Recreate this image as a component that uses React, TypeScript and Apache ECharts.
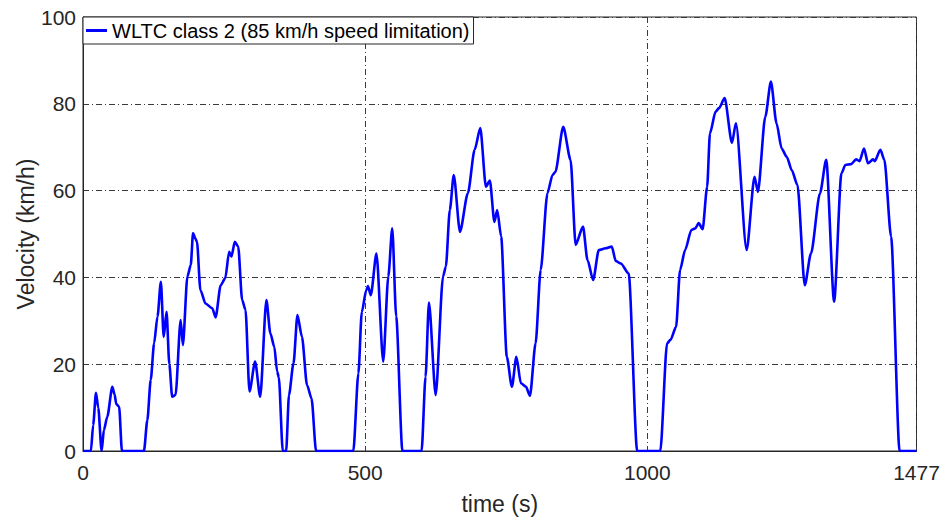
import React, { useEffect, useRef } from "react";
import * as echarts from "echarts";

const seriesName = "WLTC class 2 (85 km/h speed limitation)";
const xTitle = "time (s)";
const yTitle = "Velocity (km/h)";

const timeS: number[] = [
  0, 14, 18, 23, 27, 33, 37, 43, 52, 56, 59, 64, 69, 108, 114, 120, 126, 132, 138, 143, 148, 153, 158, 164, 173, 177,
  185, 191, 195, 199, 202, 208, 217, 229, 235, 244, 252, 259, 263, 269, 275, 282, 288, 295, 305, 314, 325, 332, 339,
  344, 347, 354, 360, 365, 373, 380, 388, 397, 405, 413, 479, 488, 494, 502, 505, 510, 520, 532, 541, 548, 555, 566,
  600, 607, 613, 625, 638, 643, 650, 657, 668, 682, 694, 704, 714, 721, 729, 734, 741, 751, 760, 768, 776, 785, 792,
  802, 811, 823, 832, 837, 851, 864, 873, 886, 894, 904, 914, 926, 937, 944, 953, 967, 982, 1023, 1035, 1041, 1051,
  1058, 1067, 1078, 1085, 1091, 1098, 1106, 1111, 1121, 1127, 1137, 1150, 1157, 1176, 1190, 1196, 1209, 1219, 1229,
  1238, 1247, 1256, 1266, 1279, 1290, 1306, 1317, 1331, 1344, 1351, 1361, 1370, 1376, 1384, 1391, 1400, 1403, 1413,
  1420, 1432, 1447, 1477,
];

const speedKmh: number[] = [
  0, 0, 6, 13.4, 10, 0, 4.8, 7.9, 14.8, 13, 10.8, 10.2, 0, 0, 7.1, 16.4, 24.8, 31, 39, 26.3, 32.1, 20, 12.5, 12.9, 30.2,
  24.4, 40.2, 42.9, 50.2, 49, 48.2, 37.1, 34, 32.9, 30.8, 38.2, 39.8, 45.9, 44.8, 48.2, 47.1, 34.8, 32.5, 13.7, 20.6,
  12.5, 34.8, 27.1, 24, 18.3, 17, 0, 0, 12.9, 20.2, 31.3, 26.3, 15.2, 12.1, 0, 0, 17.9, 32, 37.1, 38, 35.9, 45.5, 20.6,
  40.2, 51.3, 31, 0, 0, 17.1, 34.2, 12.9, 40.2, 42.5, 55.5, 63.6, 50.5, 59.4, 69.4, 74.4, 60.9, 62.3, 52.8, 55.5, 49.4,
  21.7, 14.8, 21.7, 15.6, 14.8, 12.7, 24.8, 41.7, 59.4, 63.6, 64.3, 74.7, 67.1, 47.5, 51.7, 44, 39.4, 46.3, 46.7, 47.1,
  43.8, 43.2, 40.9, 0, 0, 24.8, 25.6, 28.6, 41.7, 46.3, 50.9, 51.3, 52.5, 51.1, 60.9, 73.2, 78.2, 79, 81.3, 71, 75.5,
  46.3, 63.2, 59.7, 77, 85.1, 75.5, 69.7, 67.8, 64.7, 61.3, 38.2, 45.5, 59.4, 67.1, 34.4, 64, 65.9, 66.1, 67.2, 66.8,
  69.7, 66.3, 67.2, 66.8, 69.4, 67.1, 49.4, 0, 0,
];

const xMin = 0;
const xMax = 1477;
const xInterval = 500;
const yMin = 0;
const yMax = 100;
const yInterval = 20;

export default function App() {
  const ref = useRef<HTMLDivElement>(null);
  useEffect(() => {
    if (!ref.current) return;
    const chart = echarts.init(ref.current, undefined, { renderer: "svg" });
    const txt = "#262626";
    const font = "'Liberation Sans', Arial, Helvetica, sans-serif";
    const gridLine = { show: true, lineStyle: { color: "#3a3a3a", width: 1, type: [6, 3, 1, 3] as number[] } };
    chart.setOption({
      animation: false,
      backgroundColor: "#ffffff",
      textStyle: { fontFamily: font, color: txt },
      grid: {
        left: 83,
        right: 25.5,
        top: 17,
        bottom: 67,
        show: true,
        borderColor: txt,
        borderWidth: 1,
        backgroundColor: "transparent",
        containLabel: false,
        outerBoundsMode: "none",
      },
      legend: {
        left: 83,
        top: 17,
        orient: "horizontal",
        backgroundColor: "#ffffff",
        borderColor: txt,
        borderWidth: 1,
        borderRadius: 0,
        padding: [3.5, 4, 3.5, 3],
        icon: "rect",
        itemWidth: 21,
        itemHeight: 3,
        textStyle: { fontSize: 20, color: "#000000", fontFamily: font },
        data: [seriesName],
      },
      xAxis: {
        type: "value",
        min: xMin,
        max: xMax,
        interval: xInterval,
        name: xTitle,
        nameLocation: "middle",
        nameGap: 41,
        nameMoveOverlap: false,
        nameTextStyle: { fontSize: 23, color: txt, fontFamily: font },
        axisLine: { show: true, onZero: false, lineStyle: { color: txt, width: 1 } },
        axisTick: { show: false },
        axisLabel: {
          fontSize: 21,
          color: txt,
          margin: 11,
          showMaxLabel: true,
          showMinLabel: true,
          formatter: (v: number) => String(v),
        },
        splitLine: gridLine,
      },
      yAxis: {
        type: "value",
        min: yMin,
        max: yMax,
        interval: yInterval,
        name: yTitle,
        nameLocation: "middle",
        nameGap: 46,
        nameMoveOverlap: false,
        nameTextStyle: { fontSize: 23, color: txt, fontFamily: font },
        axisLine: { show: true, lineStyle: { color: txt, width: 1 } },
        axisTick: { show: false },
        axisLabel: { fontSize: 21, color: txt, margin: 7, formatter: (v: number) => String(v) },
        splitLine: gridLine,
      },
      series: [
        {
          name: seriesName,
          type: "line",
          data: timeS.map((t, i) => [t, speedKmh[i]]),
          showSymbol: false,
          smooth: 0.25,
          smoothMonotone: "x",
          lineStyle: { color: "#0000ff", width: 2.6 },
          itemStyle: { color: "#0000ff" },
          z: 3,
        },
      ],
    });
    return () => chart.dispose();
  }, []);
  return (
    <div
      ref={ref}
      style={{ position: "fixed", left: 0, top: 0, width: 942, height: 518, background: "#fff" }}
    />
  );
}
